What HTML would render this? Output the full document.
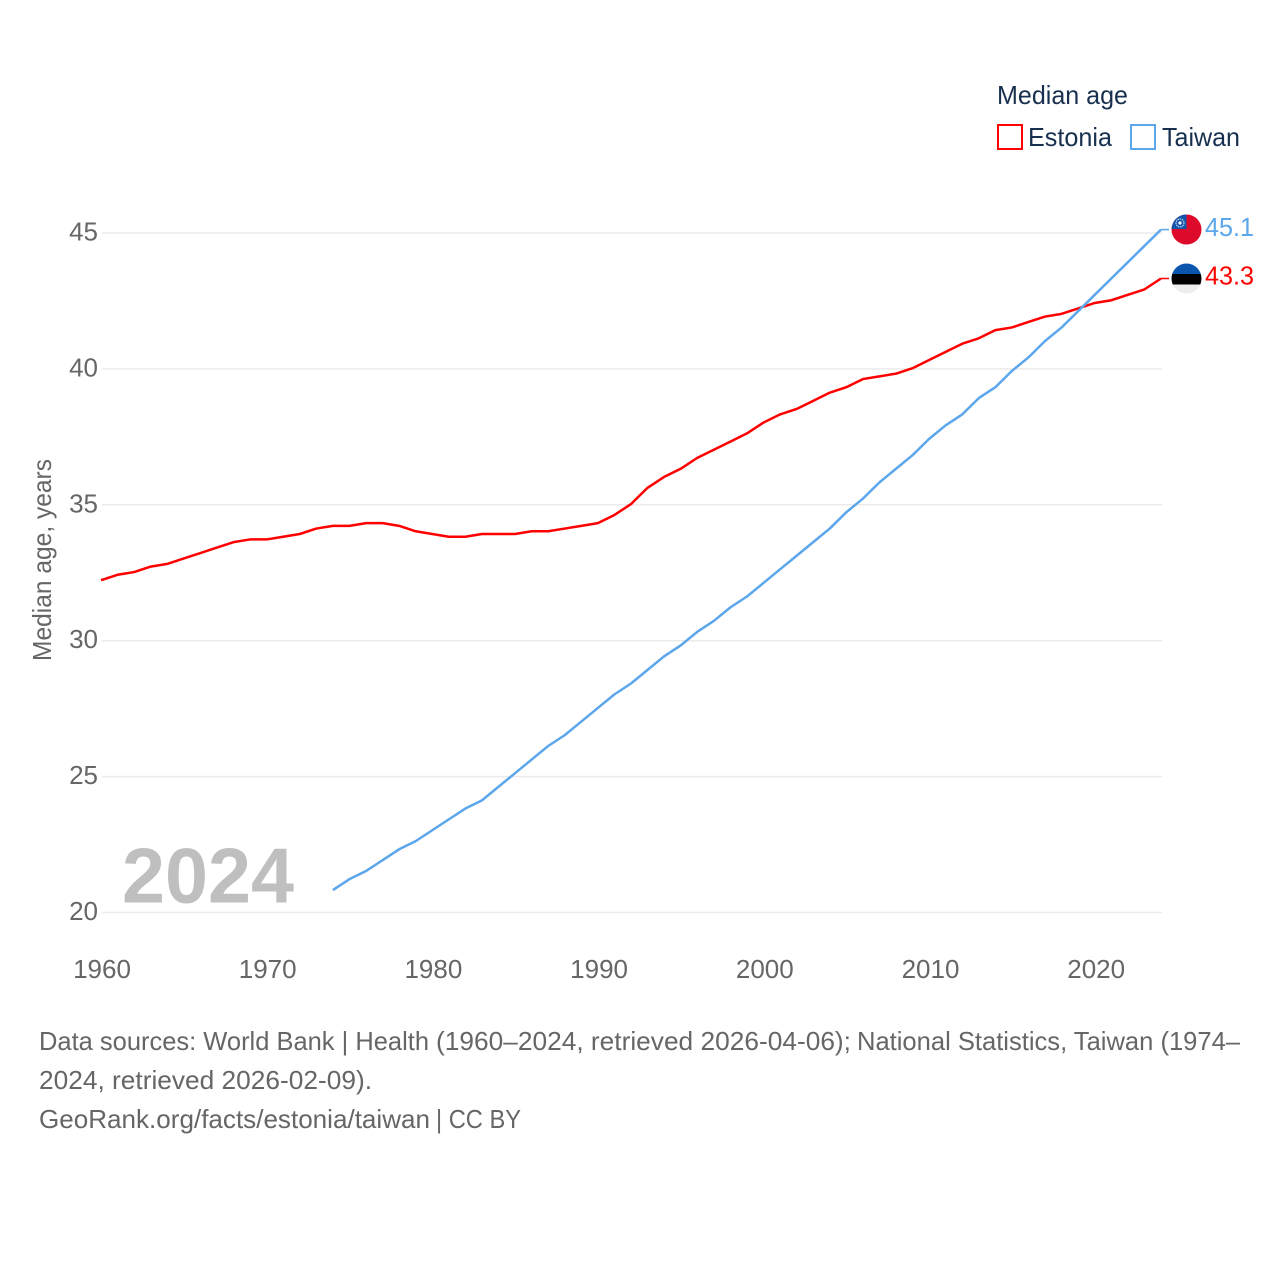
<!DOCTYPE html>
<html lang="en">
<head>
<meta charset="utf-8">
<title>Median age: Estonia and Taiwan</title>
<style>
html,body{margin:0;padding:0;background:#fff;}
svg{display:block;}
text{font-family:"Liberation Sans",sans-serif;}
</style>
</head>
<body>
<svg id="chart" xmlns="http://www.w3.org/2000/svg" width="1280" height="1280" viewBox="0 0 1280 1280">
  <rect x="0" y="0" width="1280" height="1280" fill="#ffffff"/>
  <g id="grid"></g>
  <g id="yticks"></g>
  <g id="xticks"></g>
  <text transform="translate(51,661) rotate(-90)" font-size="26" fill="#666666" textLength="202" lengthAdjust="spacingAndGlyphs">Median age, years</text>
  <text x="122" y="902.500" font-size="78" font-weight="700" fill="#bfbfbf" textLength="172" lengthAdjust="spacingAndGlyphs">2024</text>

  <g>
    <text x="997" y="104" font-size="26" fill="#18304f" textLength="131" lengthAdjust="spacingAndGlyphs">Median age</text>
    <rect x="998" y="125" width="24" height="24" fill="none" stroke="#ff0000" stroke-width="2"/>
    <text x="1028" y="146" font-size="26" fill="#18304f" textLength="84" lengthAdjust="spacingAndGlyphs">Estonia</text>
    <rect x="1131" y="125" width="24" height="24" fill="none" stroke="#5ca6ec" stroke-width="2"/>
    <text x="1162" y="146" font-size="26" fill="#18304f" textLength="78" lengthAdjust="spacingAndGlyphs">Taiwan</text>
  </g>

  <g id="series"></g>

  <defs>
    <clipPath id="clip-tw"><circle id="clip-tw-circle" cx="1186.500" cy="229.500" r="15"/></clipPath>
    <clipPath id="clip-ee"><circle id="clip-ee-circle" cx="1186.500" cy="278.500" r="15"/></clipPath>
  </defs>
  <g clip-path="url(#clip-tw)">
    <rect x="1171" y="214" width="31" height="31" fill="#de0a2b"/>
    <rect x="1171" y="214" width="15.500" height="15" fill="#1256ac"/>
    <circle cx="1180" cy="223" r="4" fill="none" stroke="#e6eef8" stroke-width="1" stroke-dasharray="1.500 0.800"/>
    <circle cx="1180" cy="223" r="1.600" fill="#ffffff"/>
  </g>
  <g clip-path="url(#clip-ee)">
    <rect x="1171" y="263" width="31" height="11" fill="#0a55ae"/>
    <rect x="1171" y="274" width="31" height="10.500" fill="#000000"/>
    <rect x="1171" y="284.500" width="31" height="10" fill="#eeeeee"/>
  </g>
  <g id="endlabels"></g>

  <g font-size="26" fill="#666666">
    <text x="39" y="1050" textLength="390" lengthAdjust="spacingAndGlyphs">Data sources: World Bank | Health</text>
    <text x="436" y="1050" textLength="415" lengthAdjust="spacingAndGlyphs">(1960–2024, retrieved 2026-04-06);</text>
    <text x="857" y="1050" textLength="383" lengthAdjust="spacingAndGlyphs">National Statistics, Taiwan (1974–</text>
    <text x="39" y="1089" textLength="333" lengthAdjust="spacingAndGlyphs">2024, retrieved 2026-02-09).</text>
    <text x="39" y="1128" textLength="391" lengthAdjust="spacingAndGlyphs">GeoRank.org/facts/estonia/taiwan</text>
    <text x="436" y="1128" textLength="85" lengthAdjust="spacingAndGlyphs">| CC BY</text>
  </g>
</svg>
<script>
var yTickValues = [20, 25, 30, 35, 40, 45];
var xTickValues = [1960, 1970, 1980, 1990, 2000, 2010, 2020];
var estoniaYears = [1960,1961,1962,1963,1964,1965,1966,1967,1968,1969,1970,1971,1972,1973,1974,1975,1976,1977,1978,1979,1980,1981,1982,1983,1984,1985,1986,1987,1988,1989,1990,1991,1992,1993,1994,1995,1996,1997,1998,1999,2000,2001,2002,2003,2004,2005,2006,2007,2008,2009,2010,2011,2012,2013,2014,2015,2016,2017,2018,2019,2020,2021,2022,2023,2024];
var estoniaValues = [32.2,32.4,32.5,32.7,32.8,33.0,33.2,33.4,33.6,33.7,33.7,33.8,33.9,34.1,34.2,34.2,34.3,34.3,34.2,34.0,33.9,33.8,33.8,33.9,33.9,33.9,34.0,34.0,34.1,34.2,34.3,34.6,35.0,35.6,36.0,36.3,36.7,37.0,37.3,37.6,38.0,38.3,38.5,38.8,39.1,39.3,39.6,39.7,39.8,40.0,40.3,40.6,40.9,41.1,41.4,41.5,41.7,41.9,42.0,42.2,42.4,42.5,42.7,42.9,43.3];
var taiwanYears = [1974,1975,1976,1977,1978,1979,1980,1981,1982,1983,1984,1985,1986,1987,1988,1989,1990,1991,1992,1993,1994,1995,1996,1997,1998,1999,2000,2001,2002,2003,2004,2005,2006,2007,2008,2009,2010,2011,2012,2013,2014,2015,2016,2017,2018,2019,2020,2021,2022,2023,2024];
var taiwanValues = [20.8,21.2,21.5,21.9,22.3,22.6,23.0,23.4,23.8,24.1,24.6,25.1,25.6,26.1,26.5,27.0,27.5,28.0,28.4,28.9,29.4,29.8,30.3,30.7,31.2,31.6,32.1,32.6,33.1,33.6,34.1,34.7,35.2,35.8,36.3,36.8,37.4,37.9,38.3,38.9,39.3,39.9,40.4,41.0,41.5,42.1,42.7,43.3,43.9,44.5,45.1];

var NS = 'http://www.w3.org/2000/svg';
function xTick(year) { return 102 + (year - 1960) * (1096.2 - 102) / 60; }
function xScale(year) { return 101 + (year - 1960) * (1161 - 101) / 64; }
function yTick(v) { return 912.5 - (v - 20) * (912.5 - 233) / 25; }
function yScale(v) { return yTick(v) - 0.7; }
function make(tag, attrs, parent) {
  var el = document.createElementNS(NS, tag);
  for (var k in attrs) { el.setAttribute(k, attrs[k]); }
  parent.appendChild(el);
  return el;
}
var gridG = document.getElementById('grid');
var yG = document.getElementById('yticks');
var xG = document.getElementById('xticks');
var sG = document.getElementById('series');
var eG = document.getElementById('endlabels');

yTickValues.forEach(function (v) {
  var line = make('line', {x1: 102, x2: 1162, y1: yTick(v), y2: yTick(v), stroke: '#ebebeb', 'stroke-width': 1.5}, gridG);
  
  
  var t = make('text', {x: 98, y: yTick(v) + 7.5, 'text-anchor': 'end', 'font-size': 26, fill: '#666666'}, yG);
  
  
  t.textContent = v;
});
xTickValues.forEach(function (y) {
  var t = make('text', {x: xTick(y), y: 978, 'text-anchor': 'middle', 'font-size': 26, fill: '#666666'}, xG);
  
  
  t.textContent = y;
});
function drawSeries(years, values, color, name) {
  var pts = years.map(function (y, i) { return xScale(y).toFixed(2) + ',' + yScale(values[i]).toFixed(2); });
  var last = values[values.length - 1];
  var lastYear = years[years.length - 1];
  var line = make('polyline', {points: pts.join(' '), fill: 'none', stroke: color, 'stroke-width': 2.5, 'stroke-linejoin': 'round'}, sG);
  
  
  var conn = make('line', {x1: xScale(lastYear), x2: 1169, y1: yScale(last), y2: yScale(last), stroke: color, 'stroke-width': 1.5}, sG);
  
  
  var t = make('text', {x: 1205, y: yTick(last) + 5.5, 'font-size': 26, fill: color, textLength: 49, lengthAdjust: 'spacingAndGlyphs'}, eG);
  
  
  t.textContent = last.toFixed(1);
}
drawSeries(estoniaYears, estoniaValues, '#ff0000', 'estonia');
drawSeries(taiwanYears, taiwanValues, '#5ca6ec', 'taiwan');
</script>
</body>
</html>
